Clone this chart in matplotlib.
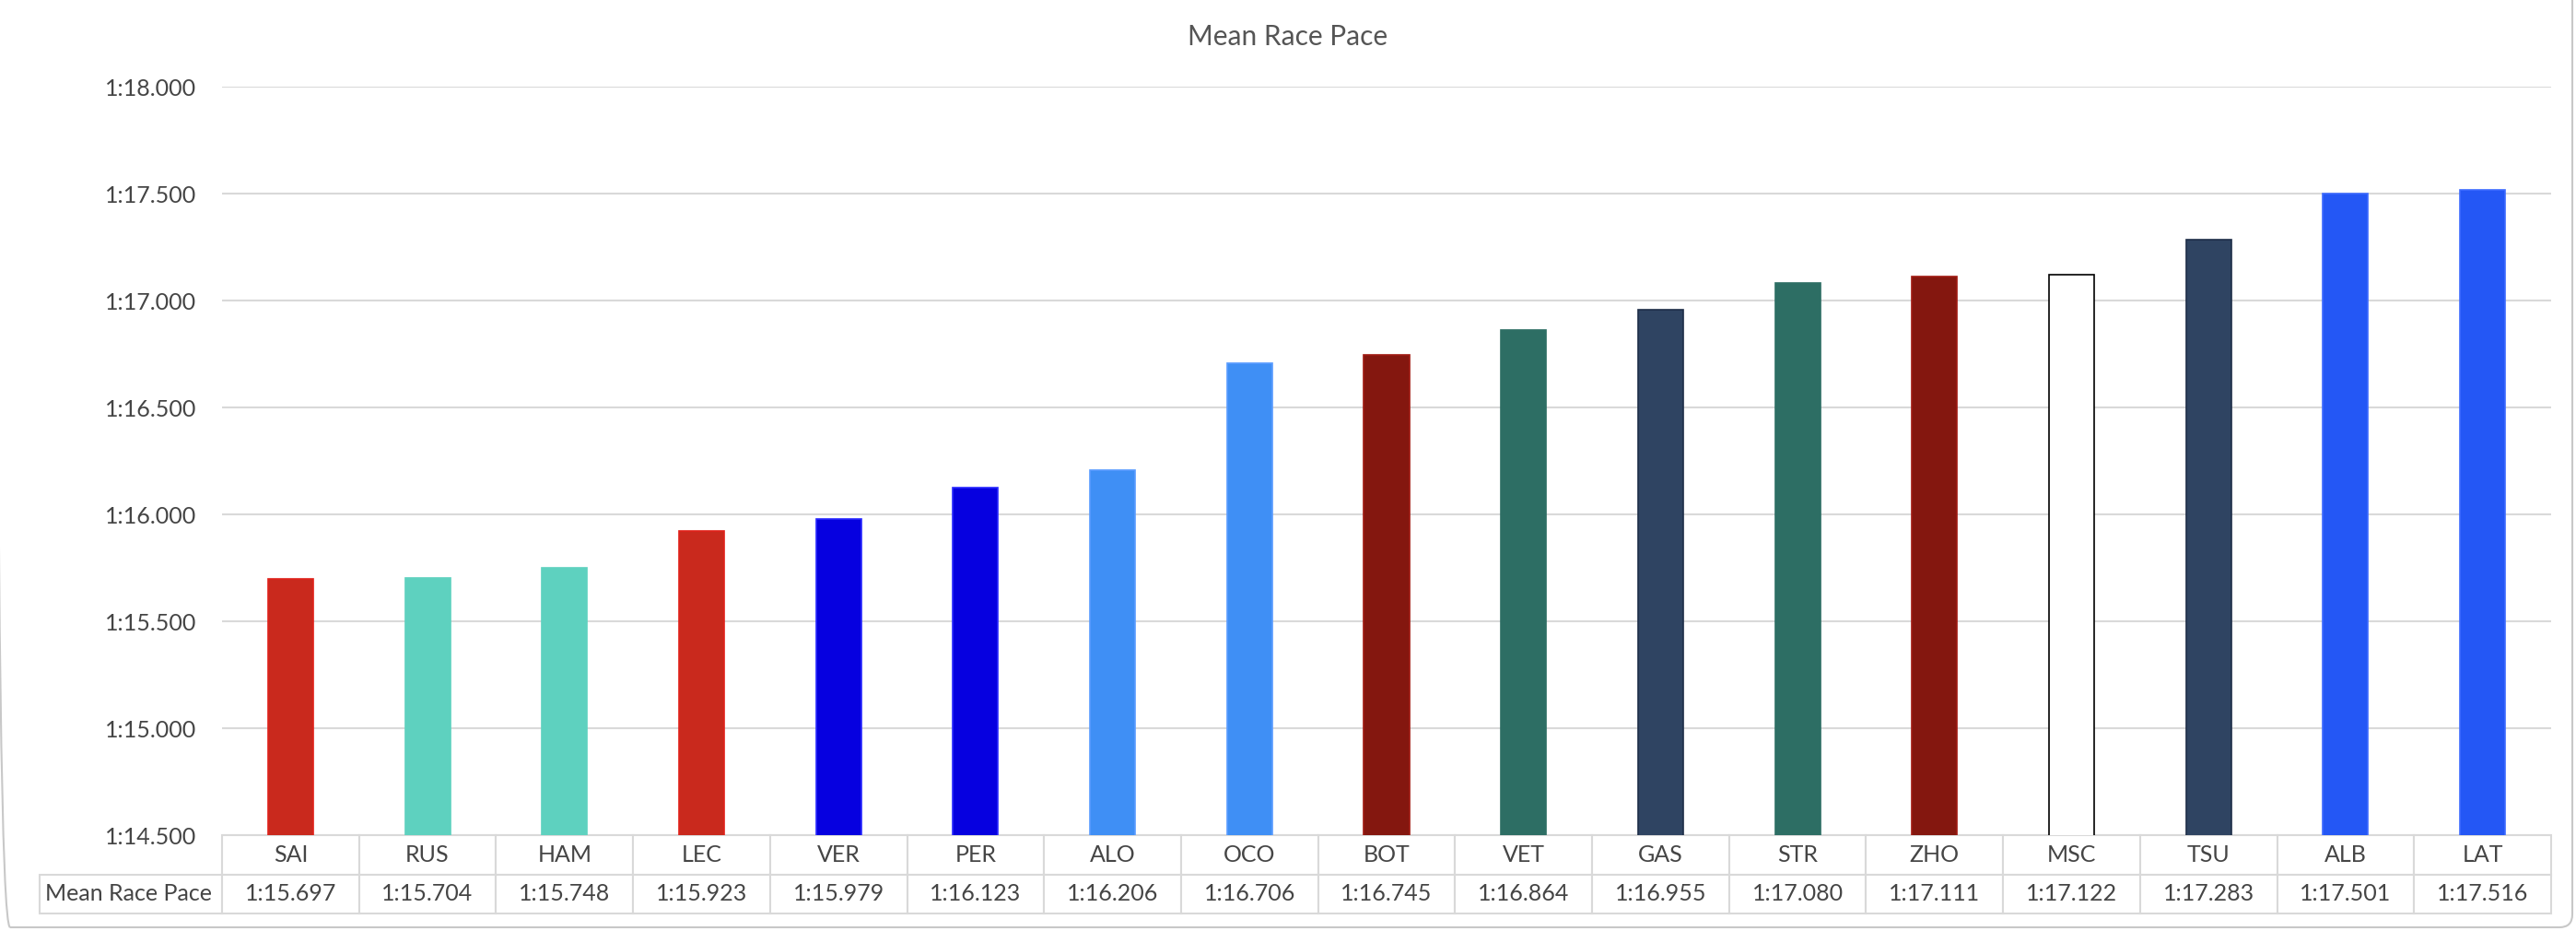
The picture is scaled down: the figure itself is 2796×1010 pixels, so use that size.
# Mean race pace per driver, bar chart with data table underneath

import numpy as np
import matplotlib
matplotlib.use('Agg')
import matplotlib.pyplot as plt
from matplotlib.ticker import FuncFormatter, MultipleLocator
from matplotlib.patches import FancyBboxPatch
from matplotlib.transforms import IdentityTransform

# input data
drivers = ['SAI', 'RUS', 'HAM', 'LEC', 'VER', 'PER', 'ALO', 'OCO', 'BOT',
           'VET', 'GAS', 'STR', 'ZHO', 'MSC', 'TSU', 'ALB', 'LAT']
pace_seconds = [75.697, 75.704, 75.748, 75.923, 75.979, 76.123, 76.206,
                76.706, 76.745, 76.864, 76.955, 77.080, 77.111, 77.122,
                77.283, 77.501, 77.516]
row_label = 'Mean Race Pace'

# team colours, one per driver
bar_colors = ['#C9291D', '#5ED1BF', '#5ED1BF', '#C9291D', '#0600E0',
              '#0600E0', '#3F8FF5', '#3F8FF5', '#84170F', '#2D6E64',
              '#2F4462', '#2D6E64', '#84170F', '#FFFFFF', '#2F4462',
              '#2457F5', '#2457F5']
edge_colors = ['#E0211A', '#5ED1BF', '#5ED1BF', '#E0211A', '#2A2AFF',
               '#2A2AFF', '#5A9CFF', '#5A9CFF', '#A01A12', '#2D6E64',
               '#1E2E48', '#2D6E64', '#A01A12', '#000000', '#1E2E48',
               '#3D6BFF', '#3D6BFF']

TEXT = '#454545'
TITLE = '#555555'
GRID = '#D9D9D9'


def lap_time(v, pos=None):
    # seconds -> m:ss.fff
    m = int(v // 60)
    s = v - 60 * m
    return f'{m}:{s:06.3f}'


def main():
    plt.rcParams['font.family'] = ['Lato', 'DejaVu Sans']

    W, H = 2796, 1010
    fig = plt.figure(figsize=(W / 100, H / 100), dpi=100)

    # axes placed in pixel terms of the output picture
    left, right, top, bottom = 241, 2769, 94, 906
    ax = fig.add_axes([left / W, 1 - bottom / H,
                       (right - left) / W, (bottom - top) / H])

    x = np.arange(len(drivers))
    ax.bar(x, pace_seconds, width=0.33, color=bar_colors,
           edgecolor=edge_colors, linewidth=1.2, zorder=3)

    ax.set_xlim(-0.5, len(drivers) - 0.5)
    ax.set_ylim(74.5, 78.0)
    ax.yaxis.set_major_locator(MultipleLocator(0.5))
    ax.yaxis.set_major_formatter(FuncFormatter(lap_time))
    ax.yaxis.grid(True, color=GRID, linewidth=1.5, zorder=0)
    ax.set_axisbelow(True)
    ax.tick_params(axis='y', length=0, pad=20, labelsize=18, labelcolor=TEXT)
    ax.set_xticks([])
    for sp in ax.spines.values():
        sp.set_visible(False)

    # data table under the bars
    label_w = left - 43
    col_w = (right - left) / len(drivers)
    widths = [label_w] + [col_w] * len(drivers)
    widths = [w / sum(widths) for w in widths]
    cells = [[''] + drivers,
             [row_label] + [lap_time(v) for v in pace_seconds]]
    tab_h = (991 - bottom) / (bottom - top)
    tab = ax.table(cellText=cells, colWidths=widths, cellLoc='center',
                   bbox=[(43 - left) / (right - left), -tab_h,
                         (right - 43) / (right - left), tab_h])
    tab.auto_set_font_size(False)
    tab.set_fontsize(18)
    for (r, c), cell in tab.get_celld().items():
        cell.set_edgecolor(GRID)
        cell.set_linewidth(1.5)
        cell.get_text().set_color(TEXT)
    tab[0, 0].visible_edges = 'open'
    lab = tab[1, 0]
    lab.PAD = 0.03
    lab.get_text().set_horizontalalignment('left')

    # title
    fig.text(0.5, 1 - 40 / H, 'Mean Race Pace', ha='center', va='center',
             fontsize=21.5, color=TITLE)

    # chart frame, only its right and bottom sides fall inside the picture
    fig.add_artist(FancyBboxPatch((-3, 4), 2795, 1040,
                                  boxstyle='round,pad=0,rounding_size=14',
                                  transform=IdentityTransform(),
                                  facecolor='none', edgecolor='#C8C8C8',
                                  linewidth=1.5))

    fig.savefig('out.png', dpi=100)


if __name__ == '__main__':
    main()
